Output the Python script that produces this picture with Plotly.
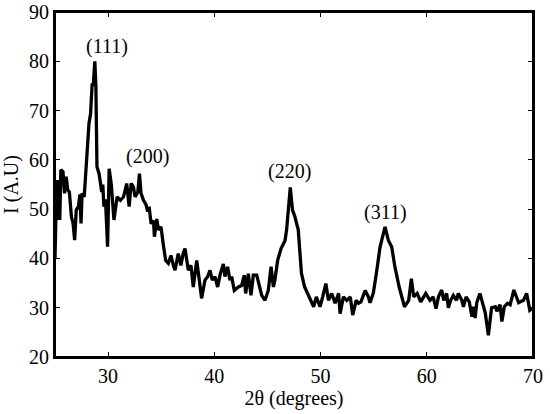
import plotly.graph_objects as go

two_theta = [25.0, 25.08, 25.16, 25.25, 25.35, 25.45, 25.55, 25.75, 25.9, 26.05, 26.2, 26.35, 26.55, 26.7,
             26.85, 27.0, 27.2, 27.35, 27.45, 27.55, 27.75, 27.9, 28.05, 28.2, 28.35, 28.5, 28.6, 28.75,
             28.85, 28.95, 29.15, 29.4, 29.5, 29.6, 29.75, 29.95, 30.1, 30.3, 30.55, 30.85, 31.15, 31.45,
             31.75, 31.85, 31.98, 32.17, 32.38, 32.54, 32.8, 32.95, 33.1, 33.33, 33.55, 33.73, 33.86,
             34.05, 34.27, 34.36, 34.58, 34.73, 34.98, 35.2, 35.42, 35.67, 35.92, 36.14, 36.3, 36.6,
             36.85, 37.07, 37.24, 37.55, 37.8, 38.02, 38.34, 38.55, 38.8,
             39.12, 39.37, 39.59, 39.81, 40.06, 40.31, 40.53, 40.85, 41.0, 41.25, 41.47, 41.63, 41.88,
             42.26, 42.57, 42.82, 42.95, 43.2, 43.45, 43.67, 43.99, 44.15, 44.46, 44.77, 45.08, 45.34,
             45.56, 45.7, 45.96, 46.28, 46.65, 46.8, 47.15,
             47.36, 47.58, 47.9, 48.2, 48.5, 48.8, 49.1, 49.35, 49.6, 49.95, 50.2, 50.5, 50.74, 51.05,
             51.37, 51.7, 51.84, 52.15, 52.47, 52.8, 53.03, 53.35, 53.57, 53.8, 54.2, 54.5,
             54.66, 54.97, 55.29, 55.6, 56.07, 56.38, 56.7, 57.0, 57.4, 57.9, 58.3, 58.55, 58.77, 59.1,
             59.43, 59.9, 60.3, 60.6, 60.87, 61.1, 61.4, 61.6, 61.87, 62.03, 62.25, 62.5, 62.8, 62.97,
             63.3, 63.45, 63.7, 64.0, 64.25, 64.4, 64.55, 64.7, 65.0, 65.35, 65.5, 65.8, 66.1, 66.45,
             66.6, 66.9, 67.07, 67.3, 67.6, 67.85, 68.2, 68.65, 69.1, 69.4, 69.7, 70.0]
intensity = [40, 48, 47.8, 55.9, 55, 47.8, 58, 57.6, 53.2, 56.6, 53.9, 53.5, 48.4, 47.1,
             43.7, 49.8, 50.5, 53, 47.1, 53.2, 52.5, 58, 63.3, 67.4, 69.4, 75.5, 75, 80,
             74.8, 58.6, 57.2, 53.5, 55, 50.5, 52, 42.4, 58.2, 55, 47.8, 52.5, 51.8, 52.5,
             55.2, 53.2, 50.5, 55.2, 54.5, 52.5, 53.5, 57.2, 53.2, 51.8, 51, 49.5, 50.5,
             47, 47.7, 44.4, 48, 45.8, 46.4, 42.7, 39.6, 39, 40.6, 38.6, 37.6, 41,
             38.6, 41, 42, 37.6, 38.6, 34.2, 39.6, 36.2, 31.9,
             35.6, 36.3, 37.6, 35.6, 36.3, 34.2, 36.6, 38.9, 36.3, 38.3, 35.6, 36.3, 33.5,
             34.2, 34.5, 36.6, 32.9, 36.9, 32.5, 36.6, 36.6, 35.2, 32.5, 31.5, 33.5, 38.3,
             34.2, 35.6, 39.6, 42, 43.6, 45.7, 54.4,
             49.8, 48.5, 45.8, 37, 34.2, 32.9, 31.5, 30.2, 32.2, 30.2, 32.2, 34.9, 31.5, 32.9,
             30.9, 32.9, 28.8, 32.2, 31.5, 32.2, 28.5, 31.5, 30.9, 31.2, 33.5, 32.2,
             31, 33, 37.5, 42.3, 46.4, 43.7, 42.3, 38.3, 34.2, 30.2, 31.5, 35.9, 32.2, 32.9,
             31.2, 32.9, 31.5, 32.2, 29.8, 32.2, 33.6, 31.5, 32.9, 30, 31.5, 32.5, 31.5, 32.9,
             31.5, 30.2, 32.2, 31.2, 28.2, 30.2, 27.9, 31, 32.9, 30, 29, 24.4, 30, 30.2,
             29.3, 30.6, 27.2, 30.2, 30.9, 30.6, 33.6, 31, 31.5, 32.9, 29.5, 30]

peak_labels = ["(111)", "(200)", "(220)", "(311)"]
peak_x = [29.9, 33.7, 47.1, 56.1]
peak_y = [83.0, 60.6, 57.6, 49.3]

x_ticks = [30, 40, 50, 60, 70]
y_ticks = [20, 30, 40, 50, 60, 70, 80, 90]

font_family = "Liberation Serif, Times New Roman, serif"

fig = go.Figure()
fig.add_trace(go.Scatter(x=two_theta, y=intensity, mode="lines",
                         line=dict(color="black", width=3.3), showlegend=False))

for lab, px, py in zip(peak_labels, peak_x, peak_y):
    fig.add_annotation(x=px, y=py, text=lab, showarrow=False,
                       font=dict(family=font_family, size=20, color="black"))

# box frame around the plotting area
fig.add_shape(type="rect", xref="paper", yref="paper", x0=0, y0=0, x1=1, y1=1,
              line=dict(color="black", width=2), layer="above")

axis_common = dict(showline=True, linecolor="black", linewidth=2, mirror="ticks",
                   ticks="inside", ticklen=5, tickwidth=1, tickcolor="black",
                   showgrid=False, zeroline=False, automargin=False,
                   ticklabeloverflow="allow",
                   tickfont=dict(family=font_family, size=20, color="black"))

fig.update_xaxes(range=[25, 70], tickvals=x_ticks,
                 title=dict(text="2θ (degrees)", standoff=0,
                            font=dict(family=font_family, size=20, color="black")),
                 **axis_common)
fig.update_yaxes(range=[20, 90], tickvals=y_ticks, ticklabelstandoff=0,
                 title=dict(text="I (A.U)", standoff=8,
                            font=dict(family=font_family, size=20, color="black")),
                 **axis_common)

fig.update_layout(width=550, height=414, plot_bgcolor="white", paper_bgcolor="white",
                  margin=dict(l=55, r=17, t=12, b=57))

fig.write_html("out.html", config={"displayModeBar": False},
               post_script="document.body.style.margin='0px';document.body.style.overflow='hidden';")
